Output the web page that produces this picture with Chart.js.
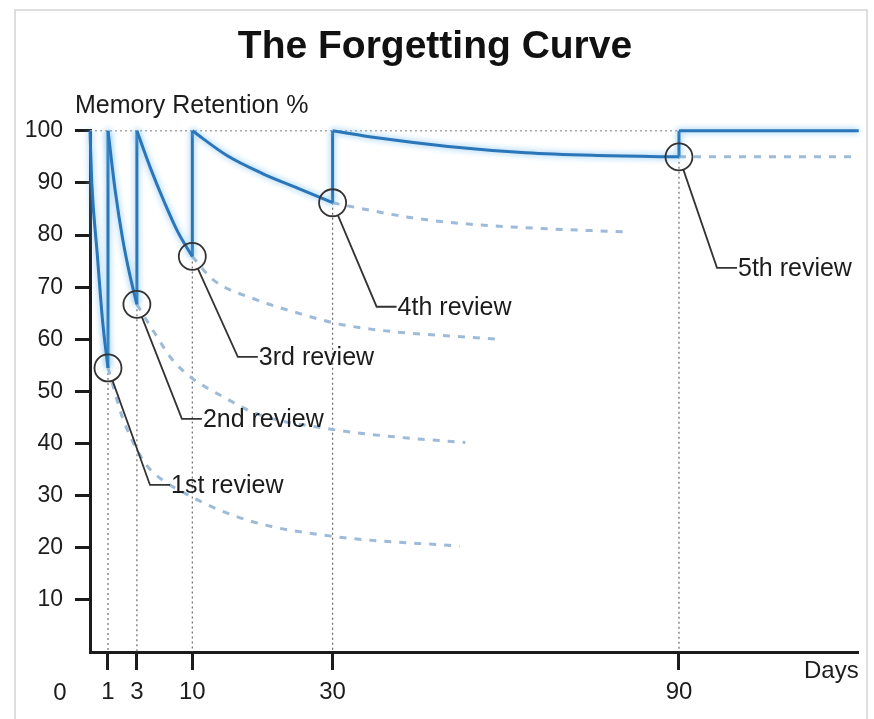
<!DOCTYPE html>
<html>
<head>
<meta charset="utf-8">
<style>
  html, body { margin: 0; padding: 0; background: #fff; }
  #wrap { width: 874px; height: 719px; }
</style>
<script src="https://cdn.jsdelivr.net/npm/chart.js@4.4.1/dist/chart.umd.min.js"></script>
</head>
<body>
<div id="wrap"><canvas id="curve"></canvas></div>
<script>
// --- data ---
const xTickDays = [1, 3, 10, 30, 90];
const yTickValues = [10, 20, 30, 40, 50, 60, 70, 80, 90, 100];

const reviewDays = [1, 3, 10, 30, 90];
const reviewRetention = [54.5, 66.7, 75.9, 86.2, 95];
const reviewLabels = ['1st review', '2nd review', '3rd review', '4th review', '5th review'];

// retention between reviews: [day, %]
const decay0 = [[0, 100], [0.1, 90], [0.4, 76.5], [0.7, 63.5], [1, 54.5]];
const decay1 = [[1, 100], [1.5, 88.5], [2, 79.5], [2.5, 72.5], [3, 66.7]];
const decay2 = [[3, 100], [4.8, 92.5], [6.5, 86.2], [8.2, 80.5], [10, 75.9]];
const decay3 = [[10, 100], [15, 95.2], [20, 91.8], [25, 89], [30, 86.2]];
const decay4 = [[30, 100], [38, 98.6], [50, 97], [63.5, 95.8], [75, 95.3], [90, 95]];
const hold = [[90, 100], [121, 100]];

// what happens without the review (dashed)
const fade1 = [[1, 54.5], [2, 45], [3.5, 37.5], [4.7, 35], [10, 29.7], [18.6, 25], [30, 22.2], [52, 20.3]];
const fade2 = [[3, 66.7], [5.2, 61.3], [7.8, 55.5], [15.7, 48], [19.6, 45.5], [30, 42.7], [41.5, 41.2], [53, 40.2]];
const fade3 = [[10, 75.9], [12.9, 71.5], [19.1, 67.6], [24.9, 65.1], [30, 63.2], [36.9, 61.9], [58.8, 60]];
const fade4 = [[30, 86.2], [33.5, 85.4], [43.8, 83.3], [52.5, 82.2], [63.5, 81.4], [80.5, 80.6]];
const fade5 = [[90, 95], [121, 95]];

const FONT = "'Liberation Sans', Arial, Helvetica, sans-serif";
const INK = '#1c1c1c';
const BLUE = '#2a76b8';
const FADE = '#9dbbd8';

// day axis is stretched at the start: piecewise linear between knots
class KnotScale extends Chart.LinearScale {
  static id = 'knot';
  static defaults = {};

  _frac(v) {
    const d = this.options.knotDays, f = this.options.knotFracs;
    if (v <= d[0]) return f[0];
    for (let i = 1; i < d.length; i++) {
      if (v <= d[i]) return f[i - 1] + (v - d[i - 1]) / (d[i] - d[i - 1]) * (f[i] - f[i - 1]);
    }
    return f[f.length - 1];
  }

  getPixelForValue(value) {
    if (value === null || isNaN(value)) return NaN;
    return this.getPixelForDecimal(this._frac(value));
  }

  getValueForPixel(pixel) {
    const d = this.options.knotDays, f = this.options.knotFracs;
    const t = this.getDecimalForPixel(pixel);
    for (let i = 1; i < f.length; i++) {
      if (t <= f[i]) return d[i - 1] + (t - f[i - 1]) / (f[i] - f[i - 1]) * (d[i] - d[i - 1]);
    }
    return d[d.length - 1];
  }
}
Chart.register(KnotScale);

const pts = arr => arr.map(p => ({ x: p[0], y: p[1] }));

function guideLines() {
  const out = [];
  reviewDays.forEach((d, i) => {
    out.push({ x: d, y: reviewRetention[i] }, { x: d, y: 0 }, { x: d, y: null });
  });
  return out;
}

function jumpLines() {
  const out = [];
  reviewDays.forEach((d, i) => {
    out.push({ x: d, y: reviewRetention[i] }, { x: d, y: 100 }, { x: d, y: null });
  });
  return out;
}

function solid(data) {
  return {
    data: pts(data), borderColor: BLUE, borderWidth: 3, pointRadius: 0,
    cubicInterpolationMode: 'monotone', glow: true, order: 2, clip: false
  };
}

function dashed(data) {
  return {
    data: pts(data), borderColor: FADE, borderWidth: 3, borderDash: [7, 8], pointRadius: 0,
    cubicInterpolationMode: 'monotone', order: 4, clip: false
  };
}

// soft light-blue halo around the solid line
const glowPlugin = {
  id: 'glow',
  beforeDatasetDraw(chart, args) {
    if (!args.meta._dataset.glow) return;
    const ctx = chart.ctx;
    ctx.save();
    ctx.shadowColor = 'rgba(110,185,240,0.95)';
    ctx.shadowBlur = 6;
  },
  afterDatasetDraw(chart, args) {
    if (!args.meta._dataset.glow) return;
    chart.ctx.restore();
  }
};

// frame, axis captions, the lone "0"
const captionPlugin = {
  id: 'captions',
  beforeDraw(chart) {
    const ctx = chart.ctx;
    ctx.save();
    ctx.strokeStyle = '#d4d4d4';
    ctx.lineWidth = 1.5;
    ctx.beginPath();
    ctx.moveTo(15, 730);
    ctx.lineTo(15, 10);
    ctx.lineTo(867, 10);
    ctx.lineTo(867, 730);
    ctx.stroke();
    ctx.restore();
  },
  afterDraw(chart) {
    const ctx = chart.ctx;
    const area = chart.chartArea;
    ctx.save();
    ctx.fillStyle = INK;
    ctx.textBaseline = 'middle';
    ctx.font = '25px ' + FONT;
    ctx.textAlign = 'left';
    ctx.fillText('Memory Retention %', 75, 106);
    ctx.font = '24px ' + FONT;
    ctx.textAlign = 'right';
    ctx.fillText('Days', area.right, 671);
    ctx.textAlign = 'center';
    ctx.fillText('0', 60, 693);
    ctx.restore();
  }
};

// circles' leader lines and their labels
const calloutPlugin = {
  id: 'callouts',
  afterDatasetsDraw(chart, args, opts) {
    const ctx = chart.ctx;
    const xs = chart.scales.x, ys = chart.scales.y;
    ctx.save();
    ctx.strokeStyle = '#333';
    ctx.lineWidth = 1.8;
    ctx.fillStyle = INK;
    ctx.font = '25px ' + FONT;
    ctx.textAlign = 'left';
    ctx.textBaseline = 'middle';
    reviewDays.forEach((d, i) => {
      const cx = xs.getPixelForValue(d);
      const cy = ys.getPixelForValue(reviewRetention[i]);
      const [bx, by] = opts.bends[i];
      const len = Math.hypot(bx, by);
      ctx.beginPath();
      ctx.moveTo(cx + bx / len * opts.radius, cy + by / len * opts.radius);
      ctx.lineTo(cx + bx, cy + by);
      ctx.lineTo(cx + bx + opts.tail, cy + by);
      ctx.stroke();
      ctx.fillText(reviewLabels[i], cx + bx + opts.tail + 1, cy + by + 1);
    });
    ctx.restore();
  }
};

new Chart(document.getElementById('curve'), {
  type: 'line',
  data: {
    datasets: [
      {
        data: [{ x: 0, y: 100 }, { x: 90, y: 100 }],
        borderColor: '#a8a8a8', borderWidth: 1.5, borderDash: [2, 3], pointRadius: 0, order: 6, clip: false
      },
      {
        data: guideLines(),
        borderColor: '#6a6a6a', borderWidth: 1.2, borderDash: [2, 3], pointRadius: 0, spanGaps: false, order: 5, clip: false
      },
      dashed(fade1), dashed(fade2), dashed(fade3), dashed(fade4), dashed(fade5),
      solid(decay0), solid(decay1), solid(decay2), solid(decay3), solid(decay4), solid(hold),
      {
        data: jumpLines(),
        borderColor: BLUE, borderWidth: 3, pointRadius: 0, spanGaps: false, glow: true, order: 2, clip: false
      },
      {
        data: reviewDays.map((d, i) => ({ x: d, y: reviewRetention[i] })),
        showLine: false, pointRadius: 13.5, pointHoverRadius: 13.5, pointBorderWidth: 1.8,
        pointBorderColor: '#333', pointBackgroundColor: 'rgba(0,0,0,0)', order: 1, clip: false
      }
    ]
  },
  options: {
    responsive: true,
    maintainAspectRatio: false,
    animation: false,
    events: [],
    layout: { padding: { left: 10, right: 14, top: 0, bottom: 7 } },
    plugins: {
      legend: { display: false },
      tooltip: { enabled: false },
      title: {
        display: true,
        text: 'The Forgetting Curve',
        color: '#111',
        font: { family: FONT, size: 39, weight: 'bold' },
        padding: { top: 24, bottom: 60 }
      },
      callouts: {
        radius: 13.5,
        tail: 20,
        bends: [[42, 117], [45, 114.5], [45.5, 100.5], [44, 104], [38, 111]]
      }
    },
    scales: {
      x: {
        type: 'knot',
        min: 0,
        max: 121,
        knotDays: [0, 1, 3, 10, 30, 90, 121],
        knotFracs: [0, 0.0234, 0.0610, 0.1331, 0.3156, 0.7662, 1],
        afterBuildTicks: s => { s.ticks = xTickDays.map(v => ({ value: v })); },
        afterFit: s => { s.height = 60; },
        grid: { drawOnChartArea: false, tickLength: 18, tickWidth: 3, tickColor: INK },
        border: { display: true, color: INK, width: 3 },
        ticks: {
          autoSkip: false, maxRotation: 0, padding: 8, color: INK,
          font: { family: FONT, size: 24 },
          callback: v => String(v)
        }
      },
      y: {
        min: 0,
        max: 100,
        afterBuildTicks: s => { s.ticks = yTickValues.map(v => ({ value: v })); },
        afterFit: s => { s.width = 80; },
        grid: { drawOnChartArea: false, tickLength: 15, tickWidth: 3, tickColor: INK },
        border: { display: true, color: INK, width: 3 },
        ticks: {
          padding: 12, color: INK,
          font: { family: FONT, size: 23 },
          callback: v => String(v)
        }
      }
    }
  },
  plugins: [glowPlugin, captionPlugin, calloutPlugin]
});
</script>
</body>
</html>
